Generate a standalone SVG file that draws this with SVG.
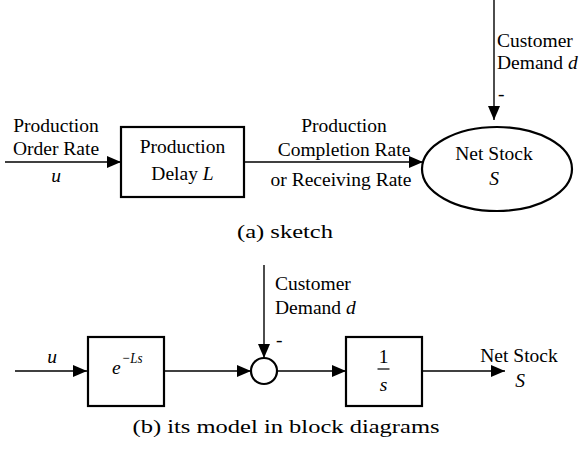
<svg xmlns="http://www.w3.org/2000/svg" width="583" height="461" viewBox="0 0 583 461">
  <defs>
    <marker id="arrow" markerUnits="userSpaceOnUse" markerWidth="14" markerHeight="12" refX="14" refY="6" orient="auto">
      <path d="M0,0 L14,6 L0,12 z" fill="#000"/>
    </marker>
    <style>
      .lbl { font-family: "Liberation Serif", "Times New Roman", serif; font-size: 19.5px; fill: #000; }
      .mid { text-anchor: middle; }
      .it { font-style: italic; }
      .sup { font-size: 15px; }
      .cap { font-family: "Liberation Serif", "Times New Roman", serif; font-size: 19px; fill: #000; }
      .box { fill: #fff; stroke: #000; stroke-width: 2.2; }
      .wire { fill: none; stroke: #000; stroke-width: 1.4; }
    </style>
  </defs>
  <rect width="583" height="461" fill="#fff"/>

  <!-- (a) sketch -->
  <g id="connectors-a">
    <line class="wire" x1="5" y1="162" x2="121" y2="162" marker-end="url(#arrow)"/>
    <line class="wire" x1="244" y1="162" x2="423" y2="162" marker-end="url(#arrow)"/>
    <line class="wire" x1="494" y1="0" x2="494" y2="120" marker-end="url(#arrow)"/>
  </g>
  <g id="order-rate-label">
    <text class="lbl mid" x="56" y="132">Production</text>
    <text class="lbl mid" x="56" y="155">Order Rate</text>
    <text class="lbl mid it" x="56" y="182">u</text>
  </g>
  <g id="production-delay">
    <rect class="box" x="121" y="127" width="123" height="70"/>
    <text class="lbl mid" x="182.5" y="153">Production</text>
    <text class="lbl mid" x="182.5" y="180">Delay <tspan class="it">L</tspan></text>
  </g>
  <g id="completion-rate-label">
    <text class="lbl mid" x="344" y="132">Production</text>
    <text class="lbl mid" x="344" y="156">Completion Rate</text>
    <text class="lbl mid" x="341" y="186">or Receiving Rate</text>
  </g>
  <g id="net-stock">
    <ellipse cx="497" cy="169" rx="75" ry="42" fill="#fff" stroke="#000" stroke-width="2.2"/>
    <text class="lbl mid" x="494" y="160">Net Stock</text>
    <text class="lbl mid it" x="494" y="185">S</text>
  </g>
  <g id="demand-label-a">
    <text class="lbl" x="497" y="47">Customer</text>
    <text class="lbl" x="497" y="69">Demand <tspan class="it">d</tspan></text>
    <text class="lbl" x="498" y="100">-</text>
  </g>
  <text class="cap mid" x="285" y="238" textLength="96" lengthAdjust="spacingAndGlyphs">(a) sketch</text>

  <!-- (b) block diagram -->
  <g id="connectors-b">
    <line class="wire" x1="15" y1="371" x2="87" y2="371" marker-end="url(#arrow)"/>
    <line class="wire" x1="165" y1="371" x2="251" y2="371" marker-end="url(#arrow)"/>
    <line class="wire" x1="264" y1="265" x2="264" y2="358" marker-end="url(#arrow)"/>
    <line class="wire" x1="277" y1="371" x2="346" y2="371" marker-end="url(#arrow)"/>
    <line class="wire" x1="422" y1="371" x2="505" y2="371" marker-end="url(#arrow)"/>
  </g>
  <g id="input-u">
    <text class="lbl mid it" x="52" y="363">u</text>
  </g>
  <g id="delay-block">
    <rect class="box" x="88" y="337" width="76" height="69"/>
    <text class="lbl it" x="112" y="374">e</text>
    <text class="lbl it sup" x="121.5" y="363" textLength="21" lengthAdjust="spacingAndGlyphs">−Ls</text>
  </g>
  <g id="sum-junction">
    <circle cx="264" cy="371" r="13" fill="#fff" stroke="#000" stroke-width="2.2"/>
    <text class="lbl" x="276" y="346">-</text>
  </g>
  <g id="demand-label-b">
    <text class="lbl" x="275" y="290">Customer</text>
    <text class="lbl" x="275" y="314">Demand <tspan class="it">d</tspan></text>
  </g>
  <g id="integrator">
    <rect class="box" x="346" y="337" width="76" height="69"/>
    <text class="lbl mid" x="383.5" y="363">1</text>
    <line x1="377.5" y1="369" x2="389.5" y2="369" stroke="#000" stroke-width="1.2"/>
    <text class="lbl mid it" x="383.5" y="391">s</text>
  </g>
  <g id="output-label">
    <text class="lbl mid" x="519" y="362">Net Stock</text>
    <text class="lbl mid it" x="520" y="387">S</text>
  </g>
  <text class="cap mid" x="286" y="433" textLength="307" lengthAdjust="spacingAndGlyphs">(b) its model in block diagrams</text>
</svg>
